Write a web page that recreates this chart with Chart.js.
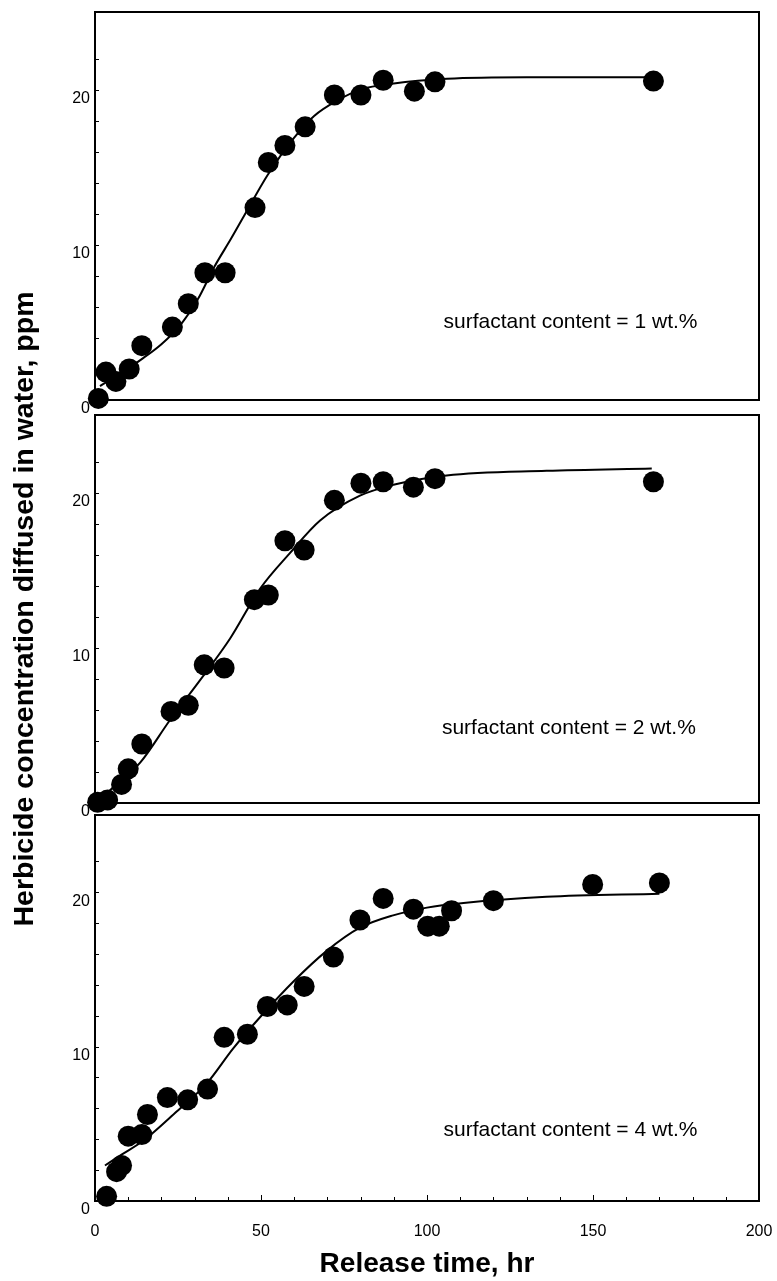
<!DOCTYPE html>
<html>
<head>
<meta charset="utf-8">
<script src="https://cdn.jsdelivr.net/npm/chart.js@4.4.1/dist/chart.umd.min.js"></script>
<style>
  body { margin: 0; background: #fff; }
  #wrap { position: relative; width: 777px; height: 1281px; }
  #wrap canvas { position: absolute; left: 0; top: 0; }
</style>
</head>
<body>
<div id="wrap">
  <canvas id="p1" width="777" height="1281"></canvas>
  <canvas id="p2" width="777" height="1281"></canvas>
  <canvas id="p3" width="777" height="1281"></canvas>
</div>
<script>
// measured points, time (hr) vs concentration (ppm)
var time1 = [1, 3.3, 6.3, 10.3, 14.1, 23.3, 28.1, 33.1, 39.2, 48.2, 52.2, 57.2, 63.3, 72.1, 80.1, 86.8, 96.2, 102.4, 168.2]
var conc1 = [0.1, 1.8, 1.2, 2.0, 3.5, 4.7, 6.2, 8.2, 8.2, 12.4, 15.3, 16.4, 17.6, 19.65, 19.65, 20.6, 19.9, 20.5, 20.55]

var time2 = [0.8, 3.8, 8.0, 10.0, 14.1, 22.9, 28.1, 32.9, 38.9, 48.0, 52.2, 57.2, 63.0, 72.1, 80.1, 86.8, 95.9, 102.4, 168.2]
var conc2 = [0.05, 0.2, 1.2, 2.2, 3.8, 5.9, 6.3, 8.9, 8.7, 13.1, 13.4, 16.9, 16.3, 19.5, 20.6, 20.7, 20.35, 20.9, 20.7]

var time4 = [3.5, 6.5, 8.0, 10.0, 14.1, 15.8, 21.8, 27.9, 33.9, 38.9, 45.9, 51.9, 57.9, 63.0, 71.8, 79.8, 86.8, 95.9, 100.2, 103.7, 107.4, 120, 149.9, 170]
var conc4 = [0.3, 1.9, 2.3, 4.2, 4.3, 5.6, 6.7, 6.55, 7.25, 10.6, 10.8, 12.6, 12.7, 13.9, 15.8, 18.2, 19.6, 18.9, 17.8, 17.8, 18.8, 19.45, 20.5, 20.6]

// fitted curves
var fitT1 = [1.5, 7, 14.5, 20, 25.6, 31, 36, 41, 45, 52, 60, 66, 73, 80, 90, 106, 130, 168]
var fitC1 = [0.9, 1.6, 2.7, 3.6, 4.8, 6.5, 8.6, 10.4, 11.9, 14.5, 16.9, 18.3, 19.3, 20.0, 20.4, 20.7, 20.8, 20.8]

var fitT2 = [0.8, 7, 13.6, 22.6, 31.6, 40.7, 49.7, 58.7, 67.8, 79.8, 89.9, 105.9, 136, 167.7]
var fitC2 = [0.1, 1.3, 2.6, 5.35, 7.9, 10.6, 13.8, 16.1, 18.2, 19.8, 20.5, 21.1, 21.4, 21.55]

var fitT4 = [3, 8, 14.5, 24.6, 33.6, 41.7, 49.7, 59.7, 69.8, 79.8, 89.8, 100, 111, 136, 170]
var fitC4 = [2.3, 3.0, 3.9, 5.8, 7.6, 9.9, 11.9, 14.2, 16.2, 17.7, 18.5, 19.0, 19.3, 19.7, 19.9]

var yTicks = [0, 10, 20]
var xTicks = [0, 50, 100, 150, 200]
var notes = ['surfactant content = 1 wt.%', 'surfactant content = 2 wt.%', 'surfactant content = 4 wt.%']

var FONT = '"Liberation Sans", Arial, Helvetica, sans-serif'

function xy(xs, ys) {
    return xs.map(function (v, i) { return {x: v, y: ys[i]} })
}

// frame, inward ticks and the note text
var panelDeco = {
    id: 'panelDeco',
    afterDatasetsDraw: function (chart, args, opts) {
        var ctx = chart.ctx
        var a = chart.chartArea
        var xs = chart.scales.x
        var ys = chart.scales.y
        ctx.save()
        ctx.strokeStyle = '#000'
        ctx.lineWidth = 2
        ctx.strokeRect(a.left, a.top, a.right - a.left, a.bottom - a.top)

        ctx.lineWidth = 1
        ctx.beginPath()
        ys.ticks.forEach(function (t) {
            if (t.value % 2 !== 0 || t.value <= 0 || t.value >= 25) return
            var p = Math.round(ys.getPixelForValue(t.value)) + 0.5
            ctx.moveTo(a.left, p)
            ctx.lineTo(a.left + 4, p)
        })
        if (opts.xticks) {
            xs.ticks.forEach(function (t) {
                if (t.value <= 0 || t.value >= 200) return
                var p = Math.round(xs.getPixelForValue(t.value)) + 0.5
                ctx.moveTo(p, a.bottom)
                ctx.lineTo(p, a.bottom - (t.value % 50 === 0 ? 6 : 4))
            })
        }
        ctx.stroke()

        ctx.fillStyle = '#000'
        ctx.font = '21px ' + FONT
        ctx.textAlign = 'left'
        ctx.textBaseline = 'middle'
        ctx.fillText(opts.text, xs.getPixelForValue(opts.at[0]), ys.getPixelForValue(opts.at[1]))
        ctx.restore()
    }
}

function makePanel(id, pts, fit, cfg) {
    return new Chart(document.getElementById(id), {
        type: 'scatter',
        data: {
            datasets: [{
                data: fit,
                showLine: true,
                pointRadius: 0,
                borderColor: '#000',
                borderWidth: 2,
                cubicInterpolationMode: 'monotone',
                clip: false
            }, {
                data: pts,
                pointRadius: 10.5,
                pointBackgroundColor: '#000',
                pointBorderWidth: 0,
                clip: false
            }]
        },
        options: {
            responsive: false,
            animation: false,
            devicePixelRatio: 1,
            layout: { padding: { left: 0, right: 18, top: cfg.top, bottom: cfg.bottom } },
            plugins: {
                legend: { display: false },
                tooltip: { enabled: false },
                panelDeco: { text: cfg.text, at: cfg.at, xticks: cfg.showX }
            },
            scales: {
                x: {
                    type: 'linear',
                    min: 0,
                    max: 200,
                    display: cfg.showX,
                    grid: { display: false, drawTicks: false },
                    border: { display: false },
                    ticks: {
                        stepSize: 10,
                        autoSkip: false,
                        maxRotation: 0,
                        padding: 21,
                        color: '#000',
                        font: { family: FONT, size: 16 },
                        callback: function (v) { return xTicks.indexOf(v) >= 0 ? v : '' }
                    },
                    title: {
                        display: cfg.showX,
                        text: 'Release time, hr',
                        color: '#000',
                        font: { family: FONT, size: 28, weight: 'bold' },
                        padding: { top: 0, bottom: 0 }
                    },
                    afterFit: function (s) {
                        if (cfg.showX) s.height = 80
                        s.paddingLeft = 0
                        s.paddingRight = 0
                    }
                },
                y: {
                    min: 0,
                    max: 25,
                    grid: { display: false, drawTicks: false },
                    border: { display: false },
                    ticks: {
                        stepSize: 2,
                        autoSkip: false,
                        padding: 5,
                        labelOffset: 9,
                        color: '#000',
                        font: { family: FONT, size: 16 },
                        callback: function (v) { return yTicks.indexOf(v) >= 0 ? v : '' }
                    },
                    title: {
                        display: cfg.yTitle,
                        text: 'Herbicide concentration diffused in water, ppm',
                        color: '#000',
                        font: { family: FONT, size: 28.5, weight: 'bold' },
                        padding: { top: 8 }
                    },
                    afterFit: function (s) {
                        s.width = 95
                        s.paddingTop = 0
                        s.paddingBottom = 0
                    }
                }
            }
        },
        plugins: [panelDeco]
    })
}

makePanel('p1', xy(time1, conc1), xy(fitT1, fitC1), { top: 12, bottom: 881, text: notes[0], at: [105, 5.0], showX: false, yTitle: false })
makePanel('p2', xy(time2, conc2), xy(fitT2, fitC2), { top: 415, bottom: 478, text: notes[1], at: [104.5, 4.8], showX: false, yTitle: true })
makePanel('p3', xy(time4, conc4), xy(fitT4, fitC4), { top: 815, bottom: 0, text: notes[2], at: [105, 4.6], showX: true, yTitle: false })
</script>
</body>
</html>
